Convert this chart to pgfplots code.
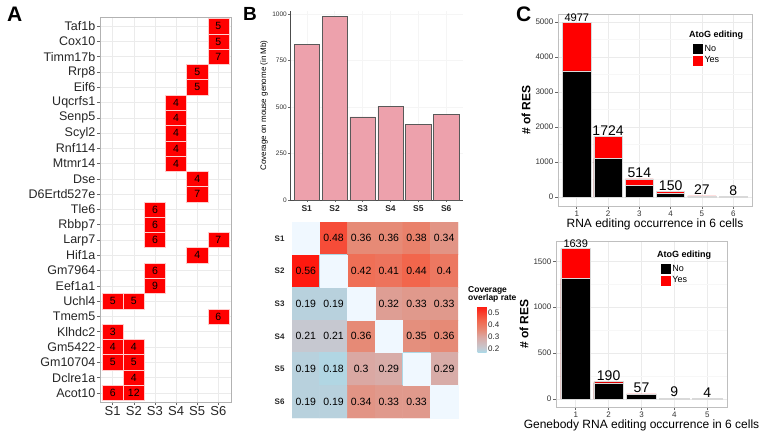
\documentclass[border=0pt]{standalone}
\usepackage{fontspec}
\setmainfont{Liberation Sans}
\usepackage{pgfplots}
\pgfplotsset{compat=1.18}
\definecolor{pinkbar}{RGB}{237,161,172}
\definecolor{diagc}{RGB}{240,248,255}
\definecolor{gridc}{RGB}{235,235,235}
\newcommand{\fs}[1]{\fontsize{#1}{#1}\selectfont}
\pgfplotsset{every axis/.append style={/pgf/number format/assume math mode=true, /pgf/number format/1000 sep={}, scaled ticks=false}}
\begin{document}
\begin{tikzpicture}
\path[use as bounding box] (0pt,0pt) rectangle (760pt,432pt);
% ---------------- Panel A ----------------
\node[anchor=north west, font=\bfseries\fs{21}, inner sep=0pt] at (7pt,425pt) {A};
\begin{axis}[
  at={(100pt,30pt)}, anchor=south west, scale only axis,
  width=131pt, height=385pt,
  xmin=0.4, xmax=6.6, ymin=0.4, ymax=25.6,
  xtick={1,...,6}, xticklabels={S1,S2,S3,S4,S5,S6},
  ytick={1,...,25},
  yticklabels={Acot10,Dclre1a,Gm10704,Gm5422,Klhdc2,Tmem5,Uchl4,Eef1a1,Gm7964,Hif1a,Larp7,Rbbp7,Tle6,D6Ertd527e,Dse,Mtmr14,Rnf114,Scyl2,Senp5,Uqcrfs1,Eif6,Rrp8,Timm17b,Cox10,Taf1b},
  tick pos=left,
  tick align=outside, major tick length=3pt,
  tick style={black!60, line width=0.6pt},
  xmajorgrids, ymajorgrids, major grid style={gridc, line width=0.6pt},
  axis line style={black!30, line width=0.6pt},
  yticklabel style={font=\fs{12.5}, text=black!85, inner sep=1.5pt},
  xticklabel style={font=\fs{13}, text=black!85, inner sep=1.5pt},
]
\addplot[only marks, mark=square*, mark size=7.64pt,
  mark options={fill=red, draw=white!80!red, line width=0.5pt, xscale=1.383},
  nodes near coords, point meta=explicit symbolic,
  nodes near coords align={center},
  every node near coord/.append style={font=\fs{10.5}, text=black, anchor=center}]
  table[meta=v] {
x y v
6 25 5
6 24 5
6 23 7
5 22 5
5 21 5
4 20 4
4 19 4
4 18 4
4 17 4
4 16 4
5 15 4
5 14 7
3 13 6
3 12 6
3 11 6
6 11 7
5 10 4
3 9 6
3 8 9
1 7 5
2 7 5
6 6 6
1 5 3
1 4 4
2 4 4
1 3 5
2 3 5
2 2 4
1 1 6
2 1 12
};
\end{axis}
% ---------------- Panel B (bars) ----------------
\node[anchor=north west, font=\bfseries\fs{19}, inner sep=0pt] at (243pt,425pt) {B};
\begin{axis}[
  at={(290pt,232pt)}, anchor=south west, scale only axis,
  width=173pt, height=189pt,
  xmin=0.4, xmax=6.6, ymin=0, ymax=1015,
  axis x line*=bottom, axis y line*=left,
  axis line style={black!70, line width=0.5pt, -},
  xtick={1,...,6}, xticklabels={S1,S2,S3,S4,S5,S6},
  ytick={0,250,500,750,1000},
  tick align=outside, major tick length=2pt, tick style={black!60},
  xmajorgrids, ymajorgrids, major grid style={gray!8},
  yticklabel style={font=\fs{6.5}, text=black!80, inner sep=1pt},
  xticklabel style={font=\bfseries\fs{8.5}, text=black!85},
  ylabel={Coverage on mouse genome (in Mb)},
  ylabel style={font=\fs{8}},
]
\addplot[ybar, bar width=0.9, bar shift=0pt, fill=pinkbar, draw=black!65, line width=0.6pt]
  coordinates {(1,835) (2,985) (3,446) (4,503) (5,408) (6,461)};
\end{axis}
% ---------------- Panel B (heatmap) ----------------
\begin{axis}[
  at={(292pt,14pt)}, anchor=south west, scale only axis,
  width=166pt, height=196pt,
  xmin=0.5, xmax=6.5, ymin=0.5, ymax=6.5, y dir=reverse,
  axis line style={draw=none}, xtick=\empty,
  ytick={1,...,6}, yticklabels={S1,S2,S3,S4,S5,S6},
  major tick length=0pt,
  yticklabel style={font=\bfseries\fs{8}, text=black!85, xshift=-4pt},
  colormap={hm}{rgb255(0cm)=(173,216,230); rgb255(3.5cm)=(198,200,208); rgb255(12.5cm)=(218,168,163); rgb255(18.5cm)=(230,138,118); rgb255(26.5cm)=(242,102,76); rgb255(38.5cm)=(255,25,15)},
  point meta min=0.175, point meta max=0.56,
  colorbar,
  colorbar style={at={(parent axis.east)}, anchor=west, xshift=11pt, yshift=-9pt,
    scale only axis, width=9pt, height=46pt,
    ytick={0.2,0.3,0.4,0.5},
    yticklabel style={font=\fs{8}, text=black!85, /pgf/number format/fixed, /pgf/number format/precision=1, inner sep=1.5pt},
    axis line style={draw=none}, major tick length=0pt, yticklabel pos=right},
]
\addplot[matrix plot*, mesh/cols=6, point meta=explicit] table[meta=c] {
x y c
1 1 0.175
2 1 0.48
3 1 0.36
4 1 0.36
5 1 0.38
6 1 0.34
1 2 0.56
2 2 0.175
3 2 0.42
4 2 0.41
5 2 0.44
6 2 0.40
1 3 0.19
2 3 0.19
3 3 0.175
4 3 0.32
5 3 0.33
6 3 0.33
1 4 0.21
2 4 0.21
3 4 0.36
4 4 0.175
5 4 0.35
6 4 0.36
1 5 0.19
2 5 0.18
3 5 0.30
4 5 0.29
5 5 0.175
6 5 0.29
1 6 0.19
2 6 0.19
3 6 0.34
4 6 0.33
5 6 0.33
6 6 0.175
};
\addplot[only marks, draw=diagc, fill=diagc, mark=square*, mark size=16.2pt,
  mark options={fill=diagc, draw=diagc, line width=0.2pt, xscale=0.847}]
  coordinates {(1,1) (2,2) (3,3) (4,4) (5,5) (6,6)};
\addplot[draw=none, mark=none, nodes near coords, point meta=explicit symbolic,
  nodes near coords align={center},
  every node near coord/.append style={font=\fs{10.5}, text=black}]
  table[meta=l] {
x y l
2 1 0.48
3 1 0.36
4 1 0.36
5 1 0.38
6 1 0.34
1 2 0.56
3 2 0.42
4 2 0.41
5 2 0.44
6 2 0.4
1 3 0.19
2 3 0.19
4 3 0.32
5 3 0.33
6 3 0.33
1 4 0.21
2 4 0.21
3 4 0.36
5 4 0.35
6 4 0.36
1 5 0.19
2 5 0.18
3 5 0.3
4 5 0.29
6 5 0.29
1 6 0.19
2 6 0.19
3 6 0.34
4 6 0.33
5 6 0.33
};
\end{axis}
\node[anchor=north west, align=left, font=\bfseries\fs{8.5}, inner sep=0pt] at (468pt,146pt) {Coverage\\overlap rate};
% ---------------- Panel C (top) ----------------
\node[anchor=north west, font=\bfseries\fs{21}, inner sep=0pt] at (516pt,425pt) {C};
\begin{axis}[
  at={(558pt,226pt)}, anchor=south west, scale only axis,
  width=194pt, height=192pt,
  xmin=0.4, xmax=6.6, ymin=-261, ymax=5226,
  xtick={1,...,6}, ytick={0,1000,2000,3000,4000,5000},
  minor ytick={500,1500,2500,3500,4500},
  tick pos=left,
  tick align=outside, major tick length=3pt, minor tick length=0pt,
  tick style={black!60, line width=0.6pt},
  xmajorgrids, ymajorgrids, yminorgrids,
  major grid style={gridc, line width=0.6pt}, minor grid style={gray!6, line width=0.4pt},
  axis line style={black!25, line width=0.6pt},
  ticklabel style={font=\fs{8}, text=black!80, inner sep=1.5pt},
  xlabel={RNA editing occurrence in 6 cells}, xlabel style={font=\fs{12}, inner sep=1pt},
  ylabel={\# of RES}, ylabel style={font=\bfseries\fs{12}},
  legend style={at={(0.675,0.859)}, anchor=north west, draw=none, fill=none, font=\fs{9}, nodes={inner sep=1pt}, row sep=0pt},
  legend cell align=left,
  legend image code/.code={\draw[#1] (0pt,-5.5pt) rectangle (11pt,5.5pt);},
]
\addplot[ybar, bar width=0.9, bar shift=0pt, fill=red, draw=white!85!black, line width=0.5pt, forget plot,
  nodes near coords, point meta=explicit symbolic,
  every node near coord/.append style={font=\fs{14}, text=black, inner sep=1pt}]
  coordinates {(1,4977)[\fs{11}4977] (2,1724)[1724] (3,514)[514] (4,150)[150] (5,27)[27] (6,8)[8]};
\addplot[ybar, bar width=0.9, bar shift=0pt, fill=black, draw=white!85!black, line width=0.5pt, forget plot]
  coordinates {(1,3600) (2,1100) (3,335) (4,95) (5,7) (6,4)};
\addlegendimage{fill=black, draw=white}\addlegendentry{No}
\addlegendimage{fill=red, draw=white}\addlegendentry{Yes}
\end{axis}
\node[anchor=west, font=\bfseries\fs{9}, inner sep=0pt] at (689pt,397pt) {AtoG editing};
% ---------------- Panel C (bottom) ----------------
\begin{axis}[
  at={(556pt,25pt)}, anchor=south west, scale only axis,
  width=171pt, height=166pt,
  xmin=0.4, xmax=5.6, ymin=-86, ymax=1721,
  xtick={1,...,5}, ytick={0,500,1000,1500},
  minor ytick={250,750,1250},
  tick pos=left,
  tick align=outside, major tick length=3pt, minor tick length=0pt,
  tick style={black!60, line width=0.6pt},
  xmajorgrids, ymajorgrids, yminorgrids,
  major grid style={gridc, line width=0.6pt}, minor grid style={gray!6, line width=0.4pt},
  axis line style={black!25, line width=0.6pt},
  ticklabel style={font=\fs{8}, text=black!80, inner sep=1.5pt},
  xlabel={Genebody RNA editing occurrence in 6 cells}, xlabel style={font=\fs{12}, inner sep=1pt},
  ylabel={\# of RES}, ylabel style={font=\bfseries\fs{12}},
  legend style={at={(0.59,0.88)}, anchor=north west, draw=none, fill=none, font=\fs{9}, nodes={inner sep=1pt}, row sep=0pt},
  legend cell align=left,
  legend image code/.code={\draw[#1] (0pt,-5.5pt) rectangle (11pt,5.5pt);},
]
\addplot[ybar, bar width=0.9, bar shift=0pt, fill=red, draw=white!85!black, line width=0.5pt, forget plot,
  nodes near coords, point meta=explicit symbolic,
  every node near coord/.append style={font=\fs{14}, text=black, inner sep=1pt}]
  coordinates {(1,1639)[\fs{11}1639] (2,190)[190] (3,57)[57] (4,9)[9] (5,4)[4]};
\addplot[ybar, bar width=0.9, bar shift=0pt, fill=black, draw=white!85!black, line width=0.5pt, forget plot]
  coordinates {(1,1312) (2,176) (3,48) (4,9) (5,4)};
\addlegendimage{fill=black, draw=white}\addlegendentry{No}
\addlegendimage{fill=red, draw=white}\addlegendentry{Yes}
\end{axis}
\node[anchor=west, font=\bfseries\fs{9}, inner sep=0pt] at (657pt,177pt) {AtoG editing};
\end{tikzpicture}
\end{document}
